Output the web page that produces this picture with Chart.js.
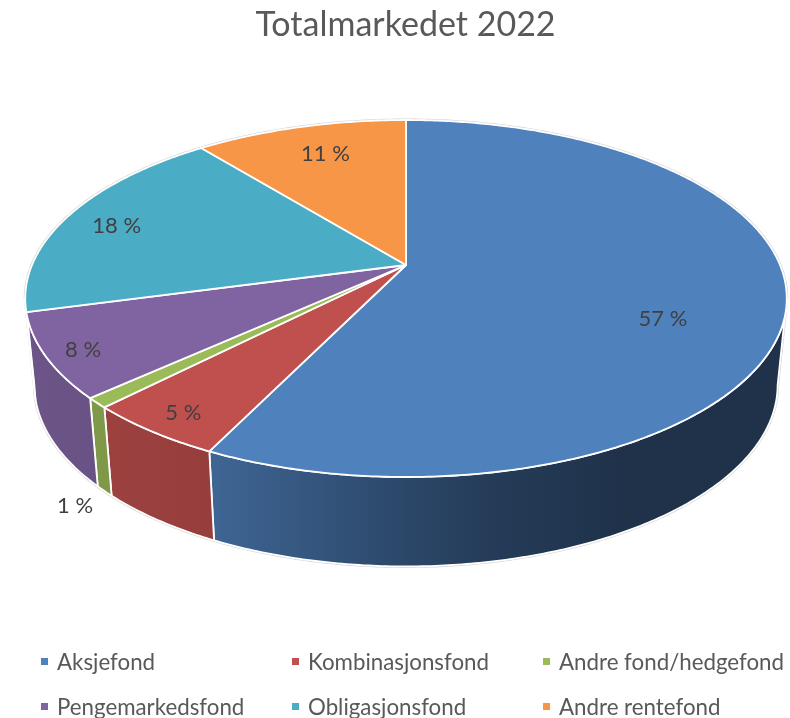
<!DOCTYPE html>
<html lang="no">
<head>
<meta charset="utf-8">
<title>Totalmarkedet 2022</title>
<script src="https://cdn.jsdelivr.net/npm/chart.js@4/dist/chart.umd.js"></script>
<style>
  body { margin: 0; background: #fff; }
  #wrap { position: relative; width: 790px; height: 718px; overflow: hidden; }
  #legend {
    position: absolute; left: 41px; top: 639px;
    display: grid; grid-template-columns: 251px 251px 251px; grid-auto-rows: 45px;
    font: 22.3px Lato, sans-serif; color: #595959; white-space: nowrap;
  }
  #legend div { display: flex; align-items: center; }
  #legend i { width: 7px; height: 7px; margin-right: 9px; }
</style>
</head>
<body>
<div id="wrap">
  <canvas id="myChart" width="790" height="718"></canvas>
  <div id="legend"></div>
</div>
<script>
const title = "Totalmarkedet 2022";
const categories = ["Aksjefond", "Kombinasjonsfond", "Andre fond/hedgefond", "Pengemarkedsfond", "Obligasjonsfond", "Andre rentefond"];
const values = [57.2, 5.1, 0.9, 7.6, 18.4, 10.8];
const colors = ["#4f81bd", "#c0504d", "#9bbb59", "#8064a2", "#4bacc6", "#f79646"];

// px shift of each percent label from its spot at 70 % of the radius
const labelShift = [[-6, 26], [-54, 37], [-124, 149], [-78, 23], [-50, -3], [-3, -10]];

// perspective disc: top face and bottom face of the pie
const top3d = { cx: 406, cy: 265, a: 374, b: 172.2, p: 0.1877 };
const bottom3d = { cx: 406, cy: 351, a: 365, b: 175, p: 0.1877 };
const frontStart = 0.19, frontEnd = Math.PI - 0.19;

const project = (d, angle, r = 1) => {
  const x = r * Math.cos(angle), y = r * Math.sin(angle);
  const w = 1 - d.p * y;
  return [d.cx + d.a * x / w, d.cy + d.b * y / w];
};

const rim = (ctx, d, from, to, moveFirst) => {
  const steps = Math.max(2, Math.ceil(Math.abs(to - from) / 0.01));
  for (let i = 0; i <= steps; i++) {
    const [x, y] = project(d, from + (to - from) * i / steps);
    if (i === 0 && moveFirst) ctx.moveTo(x, y);
    else ctx.lineTo(x, y);
  }
};

const shade = (hex, f) => {
  const n = parseInt(hex.slice(1), 16);
  return `rgb(${(n >> 16) * f}, ${((n >> 8) & 255) * f}, ${(n & 255) * f})`;
};

const sideGradient = (ctx, hex) => {
  const g = ctx.createLinearGradient(30, 0, 790, 0);
  [[0, 0.84], [0.245, 0.78], [0.487, 0.56], [0.618, 0.46], [0.776, 0.39], [1, 0.39]]
    .forEach(([stop, f]) => g.addColorStop(stop, shade(hex, f)));
  return g;
};

const pie3d = {
  id: "pie3d",
  beforeDatasetsDraw(chart) {
    const ctx = chart.ctx;
    const arcs = chart.getDatasetMeta(0).data;
    ctx.save();
    ctx.lineJoin = "round";

    // faint outer edge
    ctx.strokeStyle = "#d4d4d4";
    ctx.lineWidth = 3;
    ctx.beginPath();
    rim(ctx, top3d, frontEnd, frontStart + Math.PI * 2, true);
    rim(ctx, bottom3d, frontStart, frontEnd, false);
    ctx.closePath();
    ctx.stroke();

    ctx.strokeStyle = "#fff";
    ctx.lineWidth = 1.8;

    // side wall
    arcs.forEach((arc, i) => {
      const from = Math.max(arc.startAngle, frontStart);
      const to = Math.min(arc.endAngle, frontEnd);
      if (to <= from) return;
      ctx.beginPath();
      rim(ctx, top3d, from, to, true);
      rim(ctx, bottom3d, to, from, false);
      ctx.closePath();
      ctx.fillStyle = sideGradient(ctx, colors[i]);
      ctx.fill();
      ctx.stroke();
    });

    // top face
    arcs.forEach((arc, i) => {
      ctx.beginPath();
      ctx.moveTo(top3d.cx, top3d.cy);
      rim(ctx, top3d, arc.startAngle, arc.endAngle, false);
      ctx.closePath();
      ctx.fillStyle = colors[i];
      ctx.fill();
      ctx.stroke();
    });

    // percent labels
    ctx.font = "22px Lato, sans-serif";
    ctx.fillStyle = "#404040";
    ctx.textAlign = "center";
    ctx.textBaseline = "middle";
    arcs.forEach((arc, i) => {
      const mid = (arc.startAngle + arc.endAngle) / 2;
      const [x, y] = project(top3d, mid, 0.7);
      ctx.fillText(Math.round(values[i]) + " %", x + labelShift[i][0], y + labelShift[i][1]);
    });
    ctx.restore();
    return false;
  },
};

new Chart(document.getElementById("myChart").getContext("2d"), {
  type: "pie",
  data: {
    labels: categories,
    datasets: [{ data: values, backgroundColor: colors }],
  },
  options: {
    responsive: false,
    animation: false,
    layout: { padding: { left: 21 } },
    plugins: {
      legend: { display: false },
      tooltip: { enabled: false },
      title: {
        display: true,
        text: title,
        color: "#595959",
        font: { family: "Lato, sans-serif", size: 34, weight: "normal" },
        padding: { top: 5, bottom: 8 },
      },
    },
  },
  plugins: [pie3d],
});

const legend = document.getElementById("legend");
categories.forEach((name, i) => {
  const item = document.createElement("div");
  const box = document.createElement("i");
  box.style.background = colors[i];
  item.append(box, name);
  legend.append(item);
});
</script>
</body>
</html>
